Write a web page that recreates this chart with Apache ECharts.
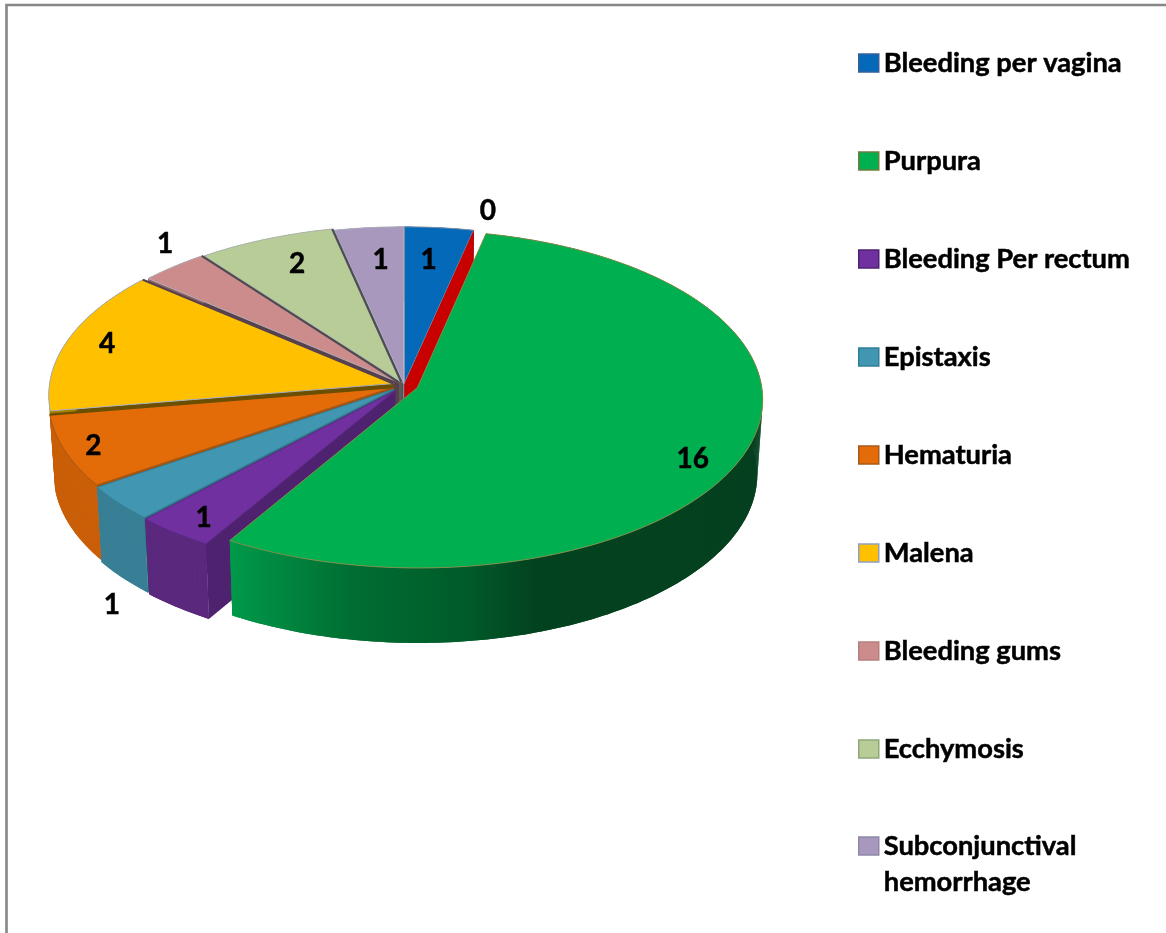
<!DOCTYPE html>
<html><head><meta charset="utf-8">
<style>html,body{margin:0;padding:0;background:#fff}#c{width:1166px;height:933px}</style>
<script src="https://cdn.jsdelivr.net/npm/echarts@6/dist/echarts.min.js"></script>
</head><body><div id="c"></div>
<script>
// ---- data ----
const categories = ["Bleeding per vagina","(unlabelled red slice)","Purpura","Bleeding Per rectum","Epistaxis","Hematuria","Malena","Bleeding gums","Ecchymosis","Subconjunctival\nhemorrhage"];
const values = [1, 0, 16, 1, 1, 2, 4, 1, 2, 1];
const legendHidden = [1];

// ---- styling ----
const topColors  = ["#0569BA","#C80000","#00B050","#7030A0","#4197B1","#E36C09","#FFC000","#CD8C8C","#B7CC96","#A898BE"];
const sideColors = ["#04508E","#C80000",null,"#5A287C","#387F96","#C95F08","#A87E00","#8F6262","#7F8F68","#75697F"];
const wallColors = ["#034478","#C80000","#006B30","#4F2270","#2F6B80","#A85008","#6B4F00","#57414C","#5B5B58","#52505C"];
const edgeColors = ["#7F93A8","#C80000","#7F8F4A","#5B2A85","#367F95","#A85A18","#A8AEBB","#B5B0B8","#B0B8B0","#B0B0BC"];
const swatchEdges = ["#3A5F9A","#C80000","#6B7F3A","#4F2270","#2F7F95","#A85A18","#8FA0C0","#B58080","#8FA878","#9088A8"];
const seamColors = [null,null,null,null,null,"#6B4F00","#57414C","#4F4A52","#4F4E58",null];
const explode    = [0.008,0.008,0.042,0.042,0.038,0.033,0.032,0.022,0.018,0.008];
const paintOrder = [0,1,9,8,7,6,5,4,3,2];
const labelSpots = [[0.79,5.5],[1.148,13.2],[0.92,117.6],[0.932,216.4],[1.435,212.9],[0.95,248],[0.912,285.8],[1.155,320.4],[0.825,336.7],[0.79,354.8]];
const greenSideStops = [[228,"#009A4A"],[350,"#006E32"],[470,"#005A2A"],[535,"#03421F"],[762,"#04401F"]];
const FONT = "Lato, 'Open Sans', sans-serif";

// ---- perspective disc ----
const hub = {x:404, y:385}, rx = 344, ry = 167.7, persp = 0.068, thick = 75, baseScale = 0.985;
const total = values.reduce((a,b)=>a+b,0);
const D2R = Math.PI/180;
let cum = 0;
const spans = values.map(v=>{const a=cum; cum+=v/total*360; return [a,cum];});

function project(px,pz,low){
  const s = 1/(1+persp*pz);
  const k = low ? baseScale : 1;
  return [hub.x+rx*px*s*k, hub.y-ry*pz*s+(low?thick:0)];
}
function planePoint(i,deg,r){
  const mid=(spans[i][0]+spans[i][1])/2*D2R, e=explode[i], t=deg*D2R;
  return [r*Math.sin(t)+e*Math.sin(mid), r*Math.cos(t)+e*Math.cos(mid)];
}
function arc(i,r){
  const [a,b]=spans[i], n=Math.max(2,Math.ceil(b-a)), out=[];
  for(let j=0;j<=n;j++) out.push(planePoint(i,a+(b-a)*j/n,r));
  return out;
}
function wall(i,deg,fill){
  const p0=planePoint(i,deg,0), p1=planePoint(i,deg,1);
  return {type:"polygon",shape:{points:[project(p0[0],p0[1]),project(p1[0],p1[1]),project(p1[0],p1[1],true),project(p0[0],p0[1],true)]},style:{fill}};
}
function sideFill(i){
  if(sideColors[i]) return sideColors[i];
  const x0=greenSideStops[0][0], x1=greenSideStops[greenSideStops.length-1][0];
  return {type:"linear",global:true,x:x0,y:0,x2:x1,y2:0,
    colorStops:greenSideStops.map(s=>({offset:(s[0]-x0)/(x1-x0),color:s[1]}))};
}
function renderSlice(i){
  return function(params,api){
    const rim=arc(i,1), apex=planePoint(i,spans[i][0],0);
    const up=rim.map(p=>project(p[0],p[1])), down=rim.map(p=>project(p[0],p[1],true));
    const fill=sideFill(i), kids=[wall(i,spans[i][0],wallColors[i]),wall(i,spans[i][1],wallColors[i])];
    kids.push({type:"polygon",shape:{points:up.concat(down.slice().reverse())},style:{fill}});
    // swept side: quads over the outline keep the silhouette closed at the widest points
    for(let j=0;j<up.length-1;j++){
      kids.push({type:"polygon",shape:{points:[up[j],up[j+1],down[j+1],down[j]]},style:{fill}});
    }
    const a2=project(apex[0],apex[1]);
    if(api.value(0)>0){
      kids.push({type:"polygon",shape:{points:[a2].concat(up)},
        style:{fill:topColors[i],stroke:edgeColors[i],lineWidth:1}});
    }
    // dark seam where the neighbouring slice's wall shows through the explode gap
    if(seamColors[i]){
      const e=up[up.length-1];
      kids.push({type:"line",shape:{x1:a2[0],y1:a2[1],x2:e[0],y2:e[1]},style:{stroke:seamColors[i],lineWidth:2.2}});
    }
    const spot=labelSpots[i], lp=[spot[0]*Math.sin(spot[1]*D2R),spot[0]*Math.cos(spot[1]*D2R)];
    const lxy=project(lp[0],lp[1]);
    kids.push({type:"text",z2:50,style:{text:String(api.value(0)),x:lxy[0],y:lxy[1],align:"center",verticalAlign:"middle",
        fontFamily:FONT,fontWeight:"bold",fontSize:28,fill:"#000",stroke:"#000",lineWidth:0.5}});
    return {type:"group",children:kids};
  };
}
const legendText = {fontFamily:FONT,fontWeight:"bold",fontSize:27.3,color:"#000",lineHeight:36,textBorderColor:"#000",textBorderWidth:0.5};
function legendItem(i){
  return {name:categories[i],icon:"rect",itemStyle:{color:topColors[i],borderColor:swatchEdges[i],borderWidth:1.5}};
}
const shown = categories.map((n,i)=>i).filter(i=>!legendHidden.includes(i));
const singleLine = shown.filter(i=>!categories[i].includes("\n"));
const wrapped = shown.filter(i=>categories[i].includes("\n"));

const chart = echarts.init(document.getElementById("c"),null,{renderer:"canvas"});
chart.setOption({
  animation:false,
  backgroundColor:"#fff",
  graphic:[{type:"rect",silent:true,shape:{x:6.5,y:5,width:1300,height:1200},style:{fill:"transparent",stroke:"#868686",lineWidth:2.6}}],
  legend:[
    {orient:"vertical",left:853,top:40,itemWidth:20,itemHeight:18,itemGap:62,selectedMode:false,
     textStyle:legendText,data:singleLine.map(legendItem)},
    {orient:"vertical",left:853,top:787,itemWidth:20,itemHeight:18,selectedMode:false,
     textStyle:legendText,data:wrapped.map(legendItem),formatter:n=>" \n"+n}
  ],
  series:paintOrder.map(i=>({
    type:"custom",name:categories[i],coordinateSystem:"none",silent:true,
    itemStyle:{color:topColors[i]},
    data:[[values[i]]],
    renderItem:renderSlice(i)
  }))
});
</script></body></html>
